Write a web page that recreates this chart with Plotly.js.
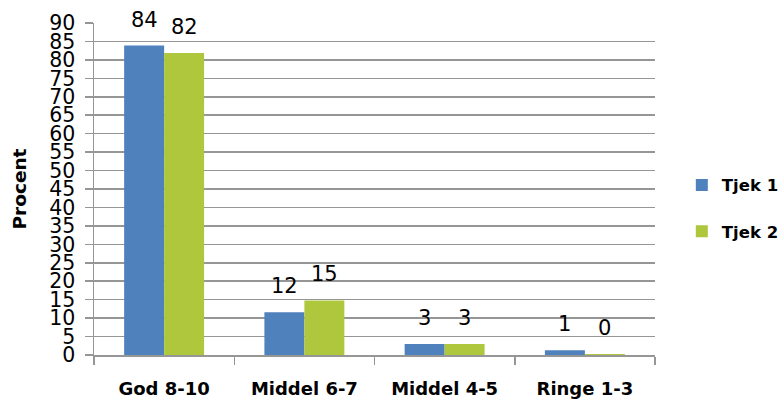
<!DOCTYPE html>
<html>
<head>
<meta charset="utf-8">
<script src="https://cdn.plot.ly/plotly-3.0.1.min.js"></script>
<style>html,body{margin:0;padding:0;background:#fff;}#chart{width:781px;height:405px;}</style>
</head>
<body>
<div id="chart"></div>
<script>
const categories = ["God 8-10", "Middel 6-7", "Middel 4-5", "Ringe 1-3"];
const seriesNames = ["Tjek 1", "Tjek 2"];
const tjek1 = [83.9, 11.6, 3.0, 1.3];
const tjek2 = [81.9, 14.8, 3.0, 0.3];
const yTicks = [0,5,10,15,20,25,30,35,40,45,50,55,60,65,70,75,80,85,90];

const colors = ["#4F81BD", "#AEC73D"];
const series = [tjek1, tjek2];

const traces = series.map((vals, s) => ({
  type: "bar",
  name: seriesNames[s],
  x: categories,
  y: vals,
  marker: {color: colors[s]},
  legendgroup: "g" + s,
  hoverinfo: "none"
}));

const annotations = [];
series.forEach((vals, s) => {
  vals.forEach((v, i) => {
    annotations.push({
      x: categories[i], y: v, xref: "x", yref: "y",
      text: String(Math.round(v)),
      showarrow: false,
      xanchor: "center", yanchor: "bottom",
      xshift: s === 0 ? -20 : 20,
      yshift: 12,
      font: {family: "DejaVu Sans", size: 21, color: "#000"}
    });
  });
});

const layout = {
  width: 781, height: 405,
  margin: {l: 94, r: 126, t: 23, b: 50},
  paper_bgcolor: "#fff", plot_bgcolor: "#fff",
  bargap: 0.43, bargroupgap: 0,
  barmode: "group",
  showlegend: true,
  legend: {
    xref: "container", yref: "container",
    x: 0.873, xanchor: "left", y: 0.486, yanchor: "middle",
    traceorder: "grouped", tracegroupgap: 22,
    font: {family: "DejaVu Sans", size: 16.5, color: "#000", weight: "bold"},
    bgcolor: "rgba(0,0,0,0)"
  },
  xaxis: {
    type: "category",
    showline: true, linecolor: "#969696", linewidth: 1.5,
    ticks: "outside", tickson: "boundaries", ticklen: 8, tickcolor: "#969696", tickwidth: 1.5,
    showgrid: false,
    ticklabelstandoff: 17,
    tickfont: {family: "DejaVu Sans", size: 18, color: "#000", weight: "bold"},
    automargin: false
  },
  yaxis: {
    range: [0, 90], tickvals: yTicks, ticktext: yTicks.map(String),
    showline: true, linecolor: "#969696", linewidth: 1.5,
    ticks: "outside", ticklen: 8, tickcolor: "#969696", tickwidth: 1.5,
    showgrid: true, gridcolor: "#969696", gridwidth: 1.5,
    zeroline: false,
    ticklabelstandoff: 5,
    tickfont: {family: "DejaVu Sans", size: 20.5, color: "#000"},
    title: {text: "Procent", font: {family: "DejaVu Sans", size: 18.5, color: "#000", weight: "bold"}, standoff: 18},
    automargin: false
  },
  annotations: annotations
};

Plotly.newPlot("chart", traces, layout, {displayModeBar: false, staticPlot: true});
</script>
</body>
</html>
